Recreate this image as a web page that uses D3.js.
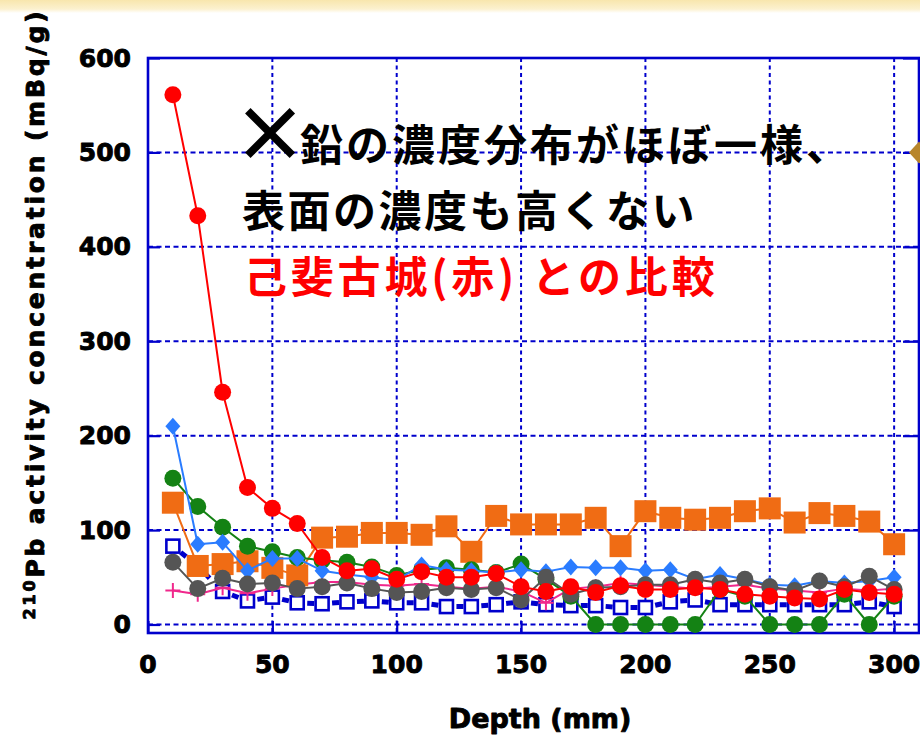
<!DOCTYPE html>
<html>
<head>
<meta charset="utf-8">
<script src="https://cdn.jsdelivr.net/npm/d3@7"></script>
<style>
  html, body { margin: 0; padding: 0; background: #ffffff; }
  svg { display: block; }
</style>
</head>
<body>
<svg id="chart" width="920" height="735"></svg>
<script>
// Sampling depths (mm)
const depth = [10, 20, 30, 40, 50, 60, 70, 80, 90, 100, 110, 120, 130, 140, 150,
               160, 170, 180, 190, 200, 210, 220, 230, 240, 250, 260, 270, 280, 290, 300];

// 210Pb activity (mBq/g) per core
const koiKojo      = [561, 433, 246, 145, 123, 107, 71, 57, 59, 48, 56, 50, 50, 54, 40,
                      35, 40, 34, 41, 37, 37, 39, 37, 32, 30, 28, 27, 37, 34, 32];
const coreOrange   = [129, 62, 64, 67, 60, 52, 92, 93, 97, 97, 95, 104, 77, 115, 106,
                      106, 106, 113, 83, 120, 113, 111, 113, 120, 123, 108, 118, 115, 109, 85];
const coreDiamond  = [210, 85, 87, 57, 70, 70, 57, 53, 50, 47, 63, 58, 57, 55, 58,
                      56, 61, 60, 60, 57, 58, 48, 53, 48, 42, 41, 46, 44, 46, 50];
const coreGreen    = [155, 125, 103, 83, 77, 71, 68, 66, 61, 52, 58, 60, 58, 55, 64,
                      48, 30, 0, 0, 0, 0, 0, 37, 30, 0, 0, 0, 32, 0, 30];
const coreGray     = [66, 38, 49, 43, 44, 38, 40, 44, 38, 34, 35, 39, 37, 39, 26,
                      50, 32, 39, 40, 42, 42, 48, 44, 48, 40, 36, 46, 40, 51, 37];
const coreSquare   = [83, 62, 35, 25, 29, 23, 22, 24, 25, 23, 23, 19, 19, 21, 24,
                      21, 20, 20, 18, 18, 24, 26, 21, 21, 21, 21, 21, 21, 24, 19];
const corePlus     = [36, 32, 39, 33, 38, 42, 45, 45, 42, 41, 43, 40, 38, 40, 35,
                      23, 38, 40, 44, 42, 40, 38, 40, 42, 38, 36, 34, 38, 36, 38];
// single point of the next profile, at the right edge of the frame
const extraDepth   = [310];
const extraValue   = [500];

// Axis ticks
const xTicks = [0, 50, 100, 150, 200, 250, 300];
const yTicks = [0, 100, 200, 300, 400, 500, 600];

// Annotation lines
const noteMark  = "×";
const noteLine1 = "鉛の濃度分布がほぼ一様、";
const noteLine2 = "表面の濃度も高くない";
const noteLine3 = "己斐古城(赤) との比較";

const svg = d3.select("#chart");
const W = 920, H = 735;
const plot = { left: 148, right: 919, top: 58, bottom: 633 };

const x = d3.scaleLinear().domain([0, 310]).range([plot.left, plot.right]);
const y = d3.scaleLinear().domain([-9, 600]).range([plot.bottom, plot.top]);

// Slide background band along the top
const defs = svg.append("defs");
const grad = defs.append("linearGradient").attr("id", "topband")
  .attr("x1", 0).attr("y1", 0).attr("x2", 0).attr("y2", 1);
grad.append("stop").attr("offset", "0%").attr("stop-color", "#f8e6ad");
grad.append("stop").attr("offset", "70%").attr("stop-color", "#fcf1cf");
grad.append("stop").attr("offset", "100%").attr("stop-color", "#ffffff");
svg.append("rect").attr("x", 0).attr("y", 0).attr("width", W).attr("height", H).attr("fill", "#ffffff");
svg.append("rect").attr("x", 0).attr("y", 0).attr("width", W).attr("height", 13).attr("fill", "url(#topband)");

const AXIS = "#0000cc";

// Dashed grid
const grid = svg.append("g");
grid.selectAll("line.h").data(yTicks.filter(v => v < 600)).join("line")
  .attr("x1", plot.left).attr("x2", plot.right)
  .attr("y1", d => y(d)).attr("y2", d => y(d))
  .attr("stroke", AXIS).attr("stroke-width", 2).attr("stroke-dasharray", "5,3.5");
grid.selectAll("line.v").data(xTicks.filter(v => v > 0)).join("line")
  .attr("x1", d => x(d)).attr("x2", d => x(d))
  .attr("y1", plot.top).attr("y2", plot.bottom)
  .attr("stroke", AXIS).attr("stroke-width", 2).attr("stroke-dasharray", "4,3.5");

// Axes: ticks point into the frame
const yLeft = d3.axisRight(y).tickValues(yTicks).tickSize(12).tickFormat("");
const yRight = d3.axisLeft(y).tickValues(yTicks.filter(v => v > 0)).tickSize(16).tickFormat("");
const xBottom = d3.axisTop(x).tickValues(xTicks).tickSize(12).tickFormat("");
function styleAxis(g) {
  g.select(".domain").remove();
  g.selectAll(".tick line").attr("stroke", AXIS).attr("stroke-width", 2.2);
}
svg.append("g").attr("transform", `translate(${plot.left},0)`).call(yLeft).call(styleAxis);
svg.append("g").attr("transform", `translate(${plot.right},0)`).call(yRight).call(styleAxis);
svg.append("g").attr("transform", `translate(0,${plot.bottom})`).call(xBottom).call(styleAxis);

// Frame
svg.append("rect")
  .attr("x", plot.left).attr("y", plot.top)
  .attr("width", plot.right - plot.left).attr("height", plot.bottom - plot.top)
  .attr("fill", "none").attr("stroke", AXIS).attr("stroke-width", 2.6);

// Heavy label text: bold face plus a thin outline of the same colour
function heavy(sel, w) {
  return sel.attr("stroke", "#000").attr("stroke-width", w).attr("stroke-linejoin", "round");
}

// Tick labels
const labelFont = "'DejaVu Sans', 'Liberation Sans', sans-serif";
svg.append("g").selectAll("text").data(yTicks).join("text")
  .attr("x", 131).attr("y", d => y(d))
  .attr("text-anchor", "end").attr("dominant-baseline", "central")
  .attr("font-family", labelFont).attr("font-weight", "bold").attr("font-size", 25)
  .attr("fill", "#000").call(heavy, 0.9).text(d => d);
svg.append("g").selectAll("text").data(xTicks).join("text")
  .attr("x", d => x(d)).attr("y", 664)
  .attr("text-anchor", "middle").attr("dominant-baseline", "central")
  .attr("font-family", labelFont).attr("font-weight", "bold").attr("font-size", 25)
  .attr("fill", "#000").call(heavy, 0.9).text(d => d);

// Axis titles
svg.append("text")
  .attr("x", 540).attr("y", 718)
  .attr("text-anchor", "middle").attr("dominant-baseline", "central")
  .attr("font-family", labelFont).attr("font-weight", "bold").attr("font-size", 27)
  .attr("fill", "#000").call(heavy, 0.9).text("Depth (mm)");

const yTitle = svg.append("text")
  .attr("transform", "translate(44,314) rotate(-90)")
  .attr("text-anchor", "middle")
  .attr("font-family", labelFont).attr("font-weight", "bold").attr("font-size", 25)
  .attr("letter-spacing", 2.8)
  .attr("fill", "#000").call(heavy, 0.9);
yTitle.append("tspan").attr("font-size", 16).attr("dy", -9).text("210");
yTitle.append("tspan").attr("dy", 9).text("Pb activity concentration (mBq/g)");

// Series drawing helpers
const line = d3.line().x(d => x(d[0])).y(d => y(d[1]));
const pts = vals => depth.map((d, i) => [d, vals[i]]);

function drawLine(vals, color, width) {
  svg.append("path").datum(pts(vals)).attr("d", line)
    .attr("fill", "none").attr("stroke", color).attr("stroke-width", width)
    .attr("stroke-linejoin", "round");
}

// Open squares with heavy dashed connectors
const sqData = pts(coreSquare);
const segs = d3.pairs(sqData);
svg.append("g").selectAll("line").data(segs).join("line")
  .attr("x1", d => x(d[0][0])).attr("y1", d => y(d[0][1]))
  .attr("x2", d => x(d[1][0])).attr("y2", d => y(d[1][1]))
  .attr("stroke", AXIS).attr("stroke-width", 5)
  .attr("stroke-dasharray", "0,10,7,200");
svg.append("g").selectAll("rect").data(sqData).join("rect")
  .attr("x", d => x(d[0]) - 6.5).attr("y", d => y(d[1]) - 6.5)
  .attr("width", 13).attr("height", 13)
  .attr("fill", "#ffffff").attr("stroke", AXIS).attr("stroke-width", 2.6);

// Plus markers
drawLine(corePlus, "#f0288c", 2);
svg.append("g").selectAll("path").data(pts(corePlus)).join("path")
  .attr("d", d => `M${x(d[0]) - 7.5},${y(d[1])}h15M${x(d[0])},${y(d[1]) - 7.5}v15`)
  .attr("stroke", "#f0288c").attr("stroke-width", 2).attr("fill", "none");

// Filled squares
drawLine(coreOrange, "#f06c14", 2);
svg.append("g").selectAll("rect").data(pts(coreOrange)).join("rect")
  .attr("x", d => x(d[0]) - 11).attr("y", d => y(d[1]) - 11)
  .attr("width", 22).attr("height", 22).attr("fill", "#f06c14");

// Green circles
drawLine(coreGreen, "#148214", 2);
svg.append("g").selectAll("circle").data(pts(coreGreen)).join("circle")
  .attr("cx", d => x(d[0])).attr("cy", d => y(d[1])).attr("r", 8.5).attr("fill", "#148214");

// Diamonds
drawLine(coreDiamond, "#2a7cff", 2);
svg.append("g").selectAll("path").data(pts(coreDiamond)).join("path")
  .attr("d", d => `M${x(d[0])},${y(d[1]) - 8.5}l7.5,8.5l-7.5,8.5l-7.5,-8.5z`)
  .attr("fill", "#2a7cff");

// Gray circles
drawLine(coreGray, "#555555", 2);
svg.append("g").selectAll("circle").data(pts(coreGray)).join("circle")
  .attr("cx", d => x(d[0])).attr("cy", d => y(d[1])).attr("r", 8.5).attr("fill", "#555555");

// 己斐古城 (red)
drawLine(koiKojo, "#ff0000", 2);
svg.append("g").selectAll("circle").data(pts(koiKojo)).join("circle")
  .attr("cx", d => x(d[0])).attr("cy", d => y(d[1])).attr("r", 8.5).attr("fill", "#ff0000");

// Brown diamond at the frame edge
svg.append("g").selectAll("path").data(extraDepth.map((d, i) => [d, extraValue[i]])).join("path")
  .attr("d", d => `M${x(d[0])},${y(d[1]) - 11}l10,11l-10,11l-10,-11z`)
  .attr("fill", "#b8862b");

// Annotation
const jp = "'Noto Sans CJK JP', 'Noto Sans CJK SC', sans-serif";
svg.append("text")
  .attr("x", 270).attr("y", 129)
  .attr("text-anchor", "middle").attr("dominant-baseline", "central")
  .attr("font-family", jp).attr("font-weight", "bold").attr("font-size", 76)
  .attr("fill", "#000")
  .text(noteMark);
svg.append("text")
  .attr("x", 300).attr("y", 142).attr("dominant-baseline", "central")
  .attr("font-family", jp).attr("font-weight", "bold").attr("font-size", 43)
  .attr("letter-spacing", 3).attr("fill", "#000").text(noteLine1);
svg.append("text")
  .attr("x", 242).attr("y", 208).attr("dominant-baseline", "central")
  .attr("font-family", jp).attr("font-weight", "bold").attr("font-size", 43)
  .attr("letter-spacing", 2.5).attr("fill", "#000").text(noteLine2);
svg.append("text")
  .attr("x", 244).attr("y", 274).attr("dominant-baseline", "central")
  .attr("font-family", jp).attr("font-weight", "bold").attr("font-size", 43)
  .attr("letter-spacing", 3.8).attr("fill", "#ff0000").text(noteLine3);
</script>
</body>
</html>
